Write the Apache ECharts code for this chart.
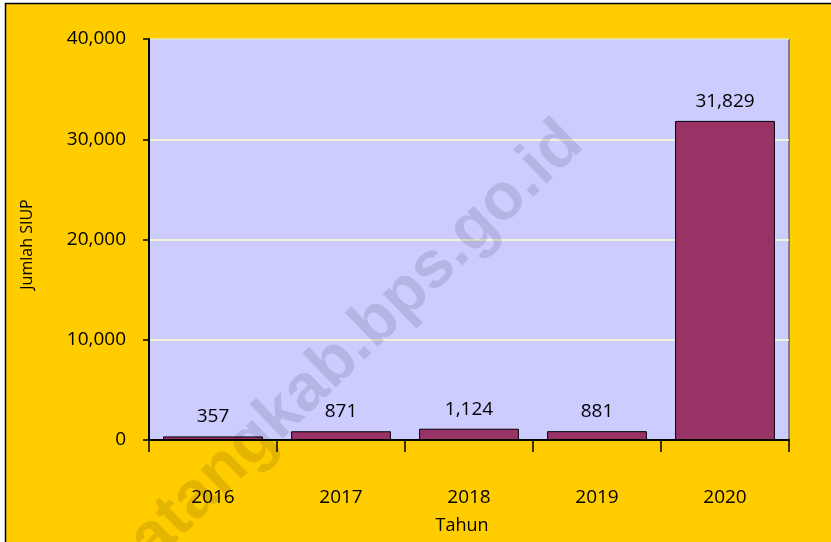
<!DOCTYPE html>
<html>
<head>
<meta charset="utf-8">
<script src="https://cdn.jsdelivr.net/npm/echarts@6/dist/echarts.min.js"></script>
<style>
  html, body { margin: 0; padding: 0; background: #fff; }
  #chart { width: 831px; height: 542px; }
</style>
</head>
<body>
<div id="chart"></div>
<script>
// data
var years = ["2016", "2017", "2018", "2019", "2020"];
var siup = [357, 871, 1124, 881, 31829];
var yTicks = [0, 10000, 20000, 30000, 40000];

var font = "'Open Sans', 'Noto Sans', sans-serif";

function fmt(v) {
  return String(v).replace(/\B(?=(\d{3})+(?!\d))/g, ",");
}

var chart = echarts.init(document.getElementById("chart"));

var option = {
  backgroundColor: "#ffffff",
  animation: false,
  textStyle: { fontFamily: font },
  grid: {
    left: 149,
    right: 42,
    top: 39,
    bottom: 102,
    show: true,
    backgroundColor: "#CCCCFF",
    borderColor: "#333333",
    borderWidth: 1
  },
  xAxis: {
    type: "category",
    data: years,
    name: "Tahun",
    nameLocation: "middle",
    nameGap: 77,
    nameTextStyle: { fontSize: 18, color: "#000", fontFamily: font, padding: [0, 14, 0, 0] },
    axisLine: { lineStyle: { color: "#000", width: 2 } },
    axisTick: { show: true, length: 12, lineStyle: { color: "#000", width: 1.5 } },
    axisLabel: { margin: 48, fontSize: 19, color: "#000", fontFamily: font },
    splitLine: { show: false }
  },
  yAxis: {
    type: "value",
    min: yTicks[0],
    max: yTicks[yTicks.length - 1],
    interval: yTicks[1] - yTicks[0],
    name: "Jumlah SIUP",
    nameLocation: "middle",
    nameGap: 114,
    nameRotate: 90,
    nameTextStyle: { fontSize: 16, color: "#000", fontFamily: font, padding: [0, 10, 0, 0] },
    axisLine: { show: true, lineStyle: { color: "#000", width: 2 } },
    axisTick: { show: true, length: 6, lineStyle: { color: "#000", width: 1.5 } },
    axisLabel: {
      margin: 23,
      fontSize: 19,
      color: "#000",
      fontFamily: font,
      formatter: function (v) { return fmt(v); }
    },
    splitLine: { lineStyle: { color: "#FFFFCC", width: 1.5 } }
  },
  series: [
    {
      type: "bar",
      data: siup,
      barCategoryGap: "22%",
      itemStyle: { color: "#993366", borderColor: "#000", borderWidth: 1 },
      label: {
        show: true,
        position: "top",
        distance: 10,
        fontSize: 19,
        color: "#000",
        fontFamily: font,
        formatter: function (p) { return fmt(p.value); }
      }
    }
  ],
  graphic: [
    {
      type: "rect",
      z: -10,
      silent: true,
      shape: { x: 5.5, y: 3.5, width: 840, height: 560 },
      style: { fill: "#FFCC00", stroke: "#000", lineWidth: 1.5 }
    },
    {
      // watermark
      type: "text",
      z: 100,
      silent: true,
      x: 342,
      y: 356,
      rotation: 44 * Math.PI / 180,
      style: {
        text: "batangkab.bps.go.id",
        font: "bold 66px 'Liberation Sans', Arial, sans-serif",
        fill: "rgba(0,0,0,0.11)",
        align: "center",
        verticalAlign: "middle"
      }
    }
  ]
};

chart.setOption(option);
</script>
</body>
</html>
